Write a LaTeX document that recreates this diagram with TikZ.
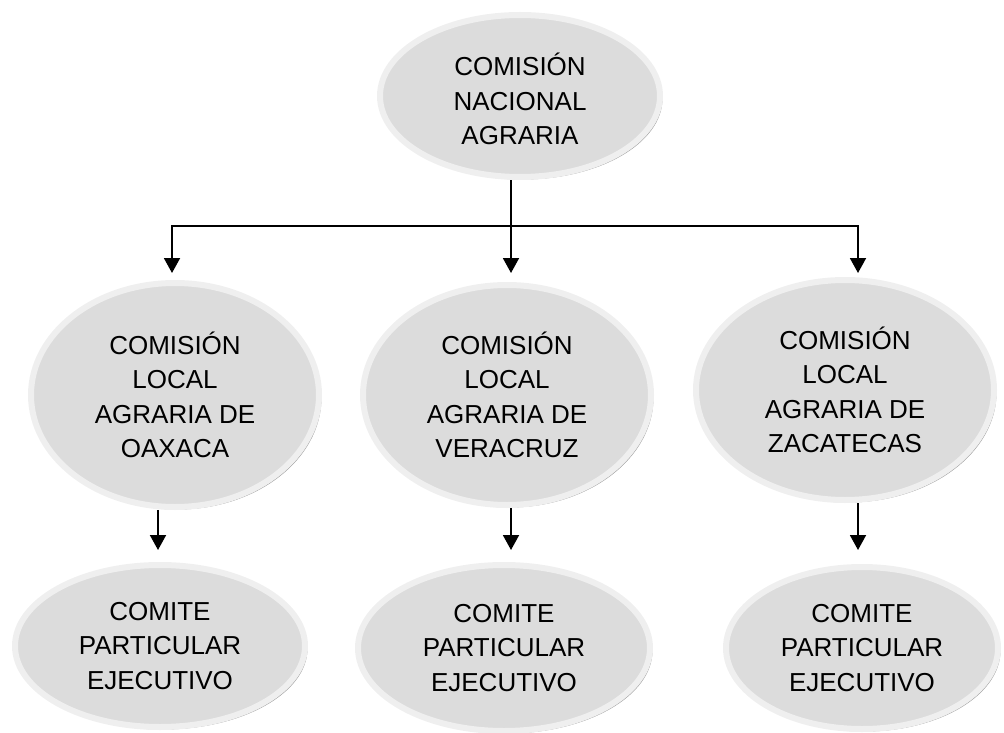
\documentclass[tikz,border=0pt]{standalone}
\usepackage{fontspec}
\setmainfont{Liberation Sans}
\usetikzlibrary{shapes.geometric,arrows.meta,shadows}
\definecolor{bubfill}{HTML}{DCDCDC}
\definecolor{bubring}{HTML}{EFEFEF}
\definecolor{bubshadow}{HTML}{9A9A9A}
\tikzset{
  bub/.style={ellipse, fill=bubfill, draw=bubring, line width=6pt, inner sep=0pt,
    align=center, font=\fontsize{26}{34.5}\selectfont,
    drop shadow={shadow xshift=2.5pt, shadow yshift=-2.5pt, fill=bubshadow, opacity=1}},
  conn/.style={line width=1.9pt, draw=black},
  arr/.style={conn, -{Triangle[width=16pt,length=15pt]}}
}
\begin{document}
\begin{tikzpicture}[x=1pt,y=-1pt]
\useasboundingbox (0,0) rectangle (1004,733);
\node[bub, minimum width=280pt, minimum height=162pt] (top) at (520,96) {\raisebox{-7.5pt}[\height][\depth]{\begin{tabular}{@{}c@{}}COMISIÓN\\NACIONAL\\AGRARIA\end{tabular}}};
\node[bub, minimum width=288pt, minimum height=224pt] (mL) at (175,395) {COMISIÓN\\LOCAL\\AGRARIA DE\\OAXACA};
\node[bub, minimum width=288pt, minimum height=220pt] (mM) at (507,395) {COMISIÓN\\LOCAL\\AGRARIA DE\\VERACRUZ};
\node[bub, minimum width=298pt, minimum height=220pt] (mR) at (845,390) {COMISIÓN\\LOCAL\\AGRARIA DE\\ZACATECAS};
\node[bub, minimum width=290pt, minimum height=162pt] (bL) at (160,646) {COMITE\\PARTICULAR\\EJECUTIVO};
\node[bub, minimum width=292pt, minimum height=166pt] (bM) at (504,648) {COMITE\\PARTICULAR\\EJECUTIVO};
\node[bub, minimum width=272pt, minimum height=162pt] (bR) at (862,648) {COMITE\\PARTICULAR\\EJECUTIVO};
% junction and tips
\coordinate (j) at (511,226);
\coordinate (tL) at (172,273);
\coordinate (tM) at (511,273);
\coordinate (tR) at (858,273);
\coordinate (uL) at (158,550);
\coordinate (uM) at (511,550);
\coordinate (uR) at (858,550);
\draw[conn] (top.south -| j) -- (j);
\draw[arr] (j) -| (tL);
\draw[arr] (j) -- (tM);
\draw[arr] (j) -| (tR);
\draw[arr] (mL.south -| uL) -- (uL);
\draw[arr] (mM.south -| uM) -- (uM);
\draw[arr] (mR.south -| uR) -- (uR);
\end{tikzpicture}
\end{document}
